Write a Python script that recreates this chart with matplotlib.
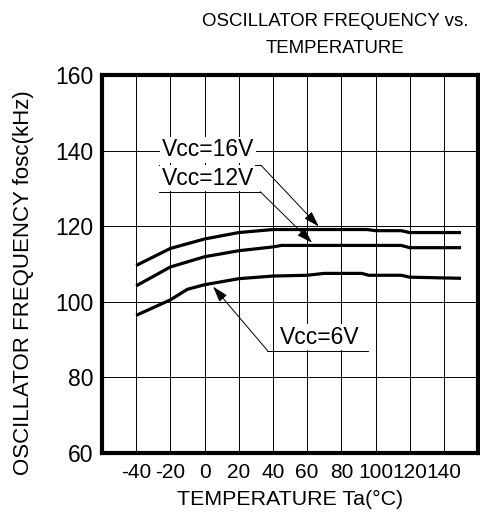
import matplotlib
matplotlib.use("Agg")
import matplotlib.pyplot as plt

plt.rcParams['font.family'] = ['Liberation Sans', 'DejaVu Sans']
plt.rcParams['axes.unicode_minus'] = False

# temperature (deg C) and oscillator frequency (kHz)
t_16v = [-40, -20, 0, 20, 40, 60, 80, 95, 100, 115, 120, 150]
f_16v = [109.6, 114.1, 116.6, 118.3, 119.1, 119.1, 119.1, 119.1, 118.8, 118.8, 118.3, 118.3]

t_12v = [-40, -20, 0, 20, 40, 45, 80, 115, 120, 150]
f_12v = [104.2, 109.2, 111.9, 113.5, 114.5, 114.9, 114.9, 114.9, 114.3, 114.3]

t_6v = [-40, -20, -10, 0, 20, 40, 60, 70, 92, 96, 115, 120, 150]
f_6v = [96.4, 100.5, 103.3, 104.5, 106.1, 106.8, 107.0, 107.5, 107.5, 107.0, 107.0, 106.5, 106.2]

x_ticks = [-40, -20, 0, 20, 40, 60, 80, 100, 120, 140]
y_ticks = [60, 80, 100, 120, 140, 160]

fig = plt.figure(figsize=(4.81, 5.13), dpi=100)
ax = fig.add_axes([0.212, 0.117, 0.782, 0.737])

for t, f in [(t_16v, f_16v), (t_12v, f_12v), (t_6v, f_6v)]:
    ax.plot(t, f, color='black', lw=2.3, solid_capstyle='butt', zorder=3)

ax.set_xlim(-60, 160)
ax.set_ylim(60, 160)
ax.set_xticks(x_ticks)
ax.set_yticks(y_ticks)
ax.grid(True, color='black', lw=0.7)
ax.tick_params(length=0)
ax.tick_params(axis='x', labelsize=15, pad=7)
ax.tick_params(axis='y', labelsize=16.5, pad=6)
for s in ax.spines.values():
    s.set_linewidth(3)

arrow = dict(arrowstyle='-|>,head_length=0.8,head_width=0.25', color='black',
             lw=0.7, mutation_scale=12, shrinkA=0, shrinkB=0)

# Vcc=16V label sits on the 140 gridline, with an underline leading to the arrow
ax.text(2, 140.2, 'Vcc=16V', fontsize=16.5, ha='center', va='center',
        bbox=dict(fc='white', ec='none', pad=1), zorder=4)
ax.plot([-26.5, 33], [136.1, 136.1], color='black', lw=0.7, zorder=4)
ax.annotate('', xy=(66.8, 119.9), xytext=(33, 136.1), arrowprops=arrow, zorder=4)

ax.text(2, 132.7, 'Vcc=12V', fontsize=16.5, ha='center', va='center',
        bbox=dict(fc='white', ec='none', pad=1), zorder=4)
ax.plot([-26.5, 32.6], [129.1, 129.1], color='black', lw=0.7, zorder=4)
ax.annotate('', xy=(62.9, 115.6), xytext=(32.6, 129.1), arrowprops=arrow, zorder=4)

ax.text(67.5, 90.6, 'Vcc=6V', fontsize=16.5, ha='center', va='center',
        bbox=dict(fc='white', ec='none', pad=1), zorder=4)
ax.plot([36.8, 95.7], [87.1, 87.1], color='black', lw=0.7, zorder=4)
ax.annotate('', xy=(5, 104.0), xytext=(36.8, 87.1), arrowprops=arrow, zorder=4)

fig.text(0.697, 0.959, 'OSCILLATOR FREQUENCY vs.', fontsize=13.4, ha='center', va='center')
fig.text(0.697, 0.906, 'TEMPERATURE', fontsize=13.4, ha='center', va='center')
fig.text(0.603, 0.027, 'TEMPERATURE Ta(°C)', fontsize=15.4, ha='center', va='center')
fig.text(0.048, 0.450, 'OSCILLATOR FREQUENCY fosc(kHz)', fontsize=16, rotation=90,
         ha='center', va='center')

fig.savefig('out.png', dpi=100)
